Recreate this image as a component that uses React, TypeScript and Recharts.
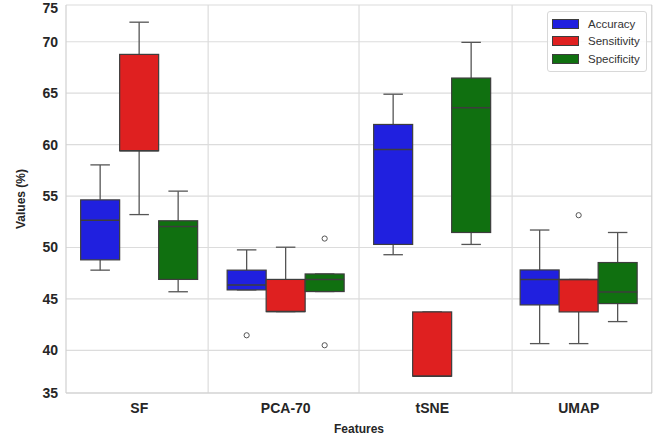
import React from "react";
import { ComposedChart, Bar, XAxis, YAxis, CartesianGrid } from "recharts";

const categories = ["SF", "PCA-70", "tSNE", "UMAP"];

// [low whisker, q1, median, q3, high whisker]
const accuracy = [
  [47.8, 48.8, 52.66, 54.63, 58.03],
  [45.88, 45.88, 46.36, 47.8, 49.77],
  [49.3, 50.3, 59.53, 61.96, 64.9],
  [40.66, 44.42, 46.89, 47.82, 51.7],
];
const sensitivity = [
  [53.2, 59.4, 59.4, 68.77, 71.9],
  [43.77, 43.77, 43.77, 46.9, 50.03],
  [37.5, 37.5, 37.5, 43.74, 43.74],
  [40.66, 43.74, 46.89, 46.89, 46.89],
];
const specificity = [
  [45.7, 46.9, 52.04, 52.6, 55.48],
  [45.72, 45.72, 46.89, 47.43, 47.43],
  [50.3, 51.46, 63.58, 66.47, 69.94],
  [42.8, 44.55, 45.68, 48.54, 51.46],
];

const accuracyOutliers = [[], [41.47], [], []];
const sensitivityOutliers = [[], [], [], [53.14]];
const specificityOutliers = [[], [50.87, 40.5], [], []];

const yMin = 35.86;
const yMax = 73.57;
const yTicks = [yMin, 40, 45, 50, 55, 60, 65, 70, yMax];
const yTickLabels = ["35", "40", "45", "50", "55", "60", "65", "70", "75"];
// small shift of the vertical separators from the category boundaries (fraction of a category)
const dividerShift = [0, -0.03, 0, 0.045];

const series = [
  { key: "acc", out: "accOut", name: "Accuracy", color: "#2020df" },
  { key: "sens", out: "sensOut", name: "Sensitivity", color: "#df2020" },
  { key: "spec", out: "specOut", name: "Specificity", color: "#107010" },
];

const data = categories.map((cat, i) => ({
  cat,
  idx: i,
  acc: accuracy[i],
  sens: sensitivity[i],
  spec: specificity[i],
  accOut: accuracyOutliers[i],
  sensOut: sensitivityOutliers[i],
  specOut: specificityOutliers[i],
}));

const EDGE = "#3d3d3d";
const WHISK = "#555555";
const GRID = "#dcdcdc";

function renderBox(p: any, key: string, outKey: string, color: string, first: boolean) {
  const [lo, q1, med, q3, hi] = p.payload[key];
  const top = Math.min(p.y, p.y + p.height);
  const h = Math.abs(p.height);
  const k = h / (q3 - q1);
  const yOf = (v: number) => top + (q3 - v) * k;
  const cx = p.x + p.width / 2;
  const cap = p.width / 4;
  const outs: number[] = p.payload[outKey];
  // separators between categories, drawn once from the first series
  const band = (p.width * 3) / 0.8;
  const bandStart = p.x - band * 0.1;
  const yTop = yOf(yMax);
  const yBot = yOf(yMin);
  const i = p.payload.idx;
  return (
    <g>
      {first && i > 0 && (
        <line
          x1={bandStart + dividerShift[i] * band}
          x2={bandStart + dividerShift[i] * band}
          y1={yTop}
          y2={yBot}
          stroke={GRID}
          strokeWidth={1.2}
        />
      )}
      {first && i === categories.length - 1 && (
        <line x1={bandStart + band} x2={bandStart + band} y1={yTop} y2={yBot} stroke="#d0d0d0" strokeWidth={1.2} />
      )}
      <line x1={cx} x2={cx} y1={yOf(hi)} y2={top} stroke={WHISK} strokeWidth={1.3} />
      <line x1={cx} x2={cx} y1={top + h} y2={yOf(lo)} stroke={WHISK} strokeWidth={1.3} />
      <line x1={cx - cap} x2={cx + cap} y1={yOf(hi)} y2={yOf(hi)} stroke={WHISK} strokeWidth={1.3} />
      <line x1={cx - cap} x2={cx + cap} y1={yOf(lo)} y2={yOf(lo)} stroke={WHISK} strokeWidth={1.3} />
      <rect x={p.x} y={top} width={p.width} height={h} fill={color} stroke={EDGE} strokeWidth={1.2} />
      <line x1={p.x} x2={p.x + p.width} y1={yOf(med)} y2={yOf(med)} stroke={EDGE} strokeWidth={1.5} />
      {outs.map((v, j) => (
        <circle key={j} cx={cx} cy={yOf(v)} r={2.6} fill="none" stroke={WHISK} strokeWidth={1} />
      ))}
    </g>
  );
}

function LegendBox() {
  return (
    <div
      style={{
        position: "absolute",
        left: 547,
        top: 11,
        width: 89,
        border: "1px solid #d8d8d8",
        borderRadius: 3,
        background: "rgba(255,255,255,0.85)",
        padding: "3px 5px 3px 4px",
        fontSize: 11.5,
        color: "#333",
      }}
    >
      {series.map((s) => (
        <div key={s.key} style={{ display: "flex", alignItems: "center", height: 17.5 }}>
          <span
            style={{
              display: "inline-block",
              width: 25,
              height: 8,
              background: s.color,
              border: `1px solid ${EDGE}`,
              marginRight: 9,
            }}
          />
          {s.name}
        </div>
      ))}
    </div>
  );
}

export default function App() {
  return (
    <div
      style={{
        position: "absolute",
        left: 0,
        top: 0,
        width: 670,
        height: 438,
        background: "#fff",
        fontFamily: "'Liberation Sans', Arial, sans-serif",
      }}
    >
      <ComposedChart
        width={670}
        height={438}
        data={data}
        margin={{ top: 5, right: 18, left: 0, bottom: 0 }}
        barCategoryGap="10%"
        barGap={0}
      >
        <CartesianGrid vertical={false} stroke={GRID} strokeWidth={1.2} />
        <XAxis
          dataKey="cat"
          height={45}
          tickLine={false}
          tickSize={0}
          tickMargin={10}
          interval={0}
          axisLine={{ stroke: "#d0d0d0", strokeWidth: 1.2 }}
          tick={{ fontSize: 14, fontWeight: "bold", fill: "#262626" }}
          label={{
            value: "Features",
            position: "insideBottom",
            offset: 5,
            style: { fontSize: 12, fontWeight: "bold", fill: "#262626" },
          }}
        />
        <YAxis
          width={66}
          domain={[yMin, yMax]}
          ticks={yTicks}
          allowDataOverflow
          tickLine={false}
          tickSize={0}
          tickMargin={8}
          tickFormatter={(v: number, i: number) => yTickLabels[i]}
          axisLine={{ stroke: "#d0d0d0", strokeWidth: 1.2 }}
          tick={{ fontSize: 14, fontWeight: "bold", fill: "#262626" }}
          label={{
            value: "Values (%)",
            angle: -90,
            position: "insideLeft",
            offset: 21,
            style: { fontSize: 12, fontWeight: "bold", fill: "#262626", textAnchor: "middle" },
          }}
        />
        {series.map((s, si) => (
          <Bar
            key={s.key}
            name={s.name}
            dataKey={(d: any) => [d[s.key][1], d[s.key][3]]}
            fill={s.color}
            isAnimationActive={false}
            shape={(p: any) => renderBox(p, s.key, s.out, s.color, si === 0)}
          />
        ))}
      </ComposedChart>
      <LegendBox />
    </div>
  );
}
